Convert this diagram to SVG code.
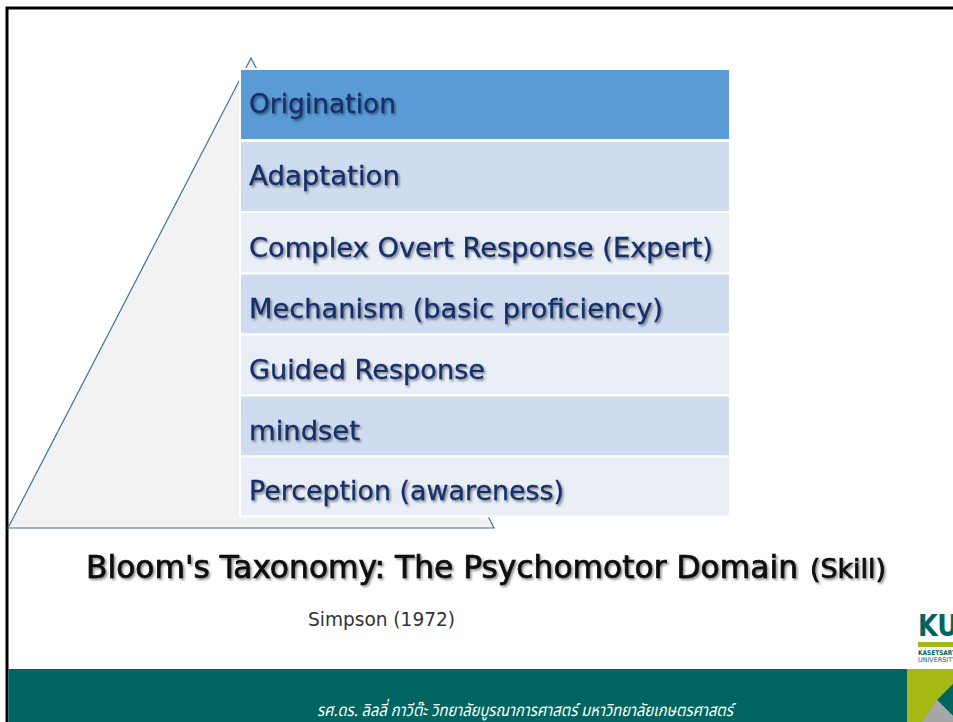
<svg xmlns="http://www.w3.org/2000/svg" width="953" height="722" viewBox="0 0 953 722">
<defs>
<filter id="sh" x="-5%" y="-20%" width="110%" height="150%">
<feDropShadow dx="1.6" dy="1.8" stdDeviation="0.9" flood-color="#000" flood-opacity="0.45"/>
</filter>
</defs>
<style>
.row{stroke:#fff;stroke-width:2}
.dk{fill:#cfdbee}
.lt{fill:#e9eef7}
.lbl{font-family:"DejaVu Sans",Verdana,sans-serif;font-size:26px;fill:#142f6b;stroke:#142f6b;stroke-width:0.3;filter:url(#sh)}
.title{font-family:"DejaVu Sans Condensed","DejaVu Sans",sans-serif;font-size:32px;fill:#111;stroke:#111;stroke-width:0.7;filter:url(#sh)}
.sub{font-family:"DejaVu Sans Condensed","DejaVu Sans",sans-serif;font-size:20px;fill:#333}
.foot{font-family:"Noto Sans Thai","Loma","Garuda","Norasi",sans-serif;font-size:17px;font-style:italic;fill:#fff}
</style>
<rect width="953" height="722" fill="#fff"/>
<rect x="7" y="8" width="960" height="730" fill="none" stroke="#000" stroke-width="3"/>

<g id="pyramid">
<polygon points="251,58 8,528 494,528" fill="#f2f2f2" stroke="#41719c" stroke-width="1.2"/>
</g>

<g id="origination">
<rect class="row" x="240" y="69" width="490" height="71" fill="#5b9bd5"/>
<text class="lbl" x="249" y="113" textLength="147" lengthAdjust="spacingAndGlyphs">Origination</text>
</g>
<g id="adaptation">
<rect class="row dk" x="240" y="141" width="490" height="71"/>
<text class="lbl" x="249" y="185" textLength="151" lengthAdjust="spacingAndGlyphs">Adaptation</text>
</g>
<g id="complex">
<rect class="row lt" x="240" y="212" width="490" height="61.5"/>
<text class="lbl" x="249" y="257" textLength="464" lengthAdjust="spacingAndGlyphs">Complex Overt Response (Expert)</text>
</g>
<g id="mechanism">
<rect class="row dk" x="240" y="273.5" width="490" height="61"/>
<text class="lbl" x="249" y="318" textLength="414" lengthAdjust="spacingAndGlyphs">Mechanism (basic proficiency)</text>
</g>
<g id="guided">
<rect class="row lt" x="240" y="334.5" width="490" height="61"/>
<text class="lbl" x="249" y="379" textLength="236" lengthAdjust="spacingAndGlyphs">Guided Response</text>
</g>
<g id="mindset">
<rect class="row dk" x="240" y="395.5" width="490" height="61"/>
<text class="lbl" x="249" y="440" textLength="111" lengthAdjust="spacingAndGlyphs">mindset</text>
</g>
<g id="perception">
<rect class="row lt" x="240" y="456.5" width="490" height="60"/>
<text class="lbl" x="249" y="500" textLength="315" lengthAdjust="spacingAndGlyphs">Perception (awareness)</text>
</g>

<g id="connectors"></g>

<g id="title">
<text class="title" x="86" y="578"><tspan textLength="712" lengthAdjust="spacingAndGlyphs">Bloom's Taxonomy: The Psychomotor Domain</tspan><tspan x="810" font-size="26" textLength="76" lengthAdjust="spacingAndGlyphs">(Skill)</tspan></text>
<text class="sub" x="308" y="626" textLength="147" lengthAdjust="spacingAndGlyphs">Simpson (1972)</text>
</g>

<g id="logo">
<text x="918" y="636" font-family="'DejaVu Sans Condensed','DejaVu Sans',sans-serif" font-weight="bold" font-size="30" fill="#006560" textLength="40" lengthAdjust="spacingAndGlyphs">KU</text>
<rect x="918" y="642" width="40" height="5" fill="#a5b814"/>
<text x="918" y="655" font-family="'DejaVu Sans Condensed',sans-serif" font-weight="bold" font-size="6.5" fill="#006560" textLength="38" lengthAdjust="spacingAndGlyphs">KASETSART</text>
<text x="918" y="662" font-family="'DejaVu Sans Condensed',sans-serif" font-size="6.5" fill="#006560" textLength="38" lengthAdjust="spacingAndGlyphs">UNIVERSITY</text>
</g>

<g id="footer">
<rect x="8.5" y="669" width="945" height="53" fill="#006560"/>
<rect x="907" y="669" width="46" height="53" fill="#a5b814"/>
<polygon points="937,700 953,684 953,716" fill="#006560"/>
<polygon points="937,700 922,722 953,722 953,716" fill="#a6a8a8"/>
<text class="foot" x="317" y="716" textLength="416" lengthAdjust="spacingAndGlyphs">รศ.ดร. ลิลลี่ กาวีต๊ะ วิทยาลัยบูรณาการศาสตร์ มหาวิทยาลัยเกษตรศาสตร์</text>
</g>
</svg>
